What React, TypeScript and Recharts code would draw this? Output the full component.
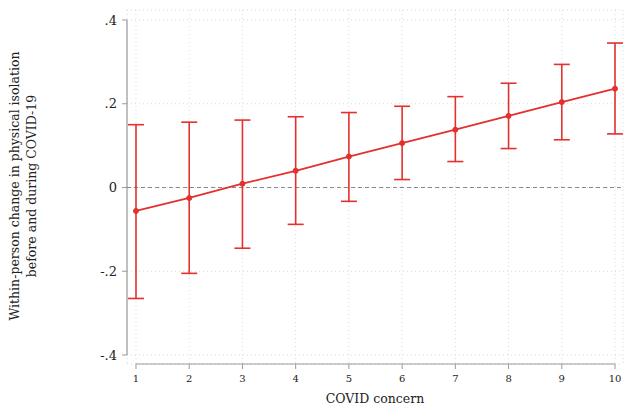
import { CartesianGrid, ComposedChart, ErrorBar, Label, Line, ReferenceLine,
         XAxis, YAxis } from "recharts";

const concern = [1, 2, 3, 4, 5, 6, 7, 8, 9, 10];
const effect = [-0.056, -0.025, 0.009, 0.040, 0.074, 0.106, 0.138, 0.171, 0.204, 0.236];
const lower = [-0.265, -0.205, -0.145, -0.088, -0.033, 0.019, 0.062, 0.093, 0.114, 0.128];
const upper = [0.150, 0.156, 0.161, 0.169, 0.179, 0.194, 0.217, 0.249, 0.294, 0.345];
const yTicks = [-0.4, -0.2, 0, 0.2, 0.4];

const X_DOMAIN = [0.831, 10.15];
const Y_DOMAIN = [-0.4215, 0.4239];
const RED = "#e2312f";
const AXIS = "#9a9a9a";
const FONT = '"DejaVu Serif", "Liberation Serif", serif';

const rows = concern.map((c, i) => ({
  concern: c,
  effect: effect[i],
  err: [effect[i] - lower[i], upper[i] - effect[i]],
}));

const fmtY = (v: number) => (v === 0 ? "0" : v.toFixed(1).replace("0.", "."));

function YTitle() {
  return (
    <text transform="translate(27,186) rotate(-90)" textAnchor="middle"
          fontFamily={FONT} fontSize={12.5} fill="#222">
      <tspan x={0} dy={-8}>Within-person change in physical isolation</tspan>
      <tspan x={0} dy={17}>before and during COVID-19</tspan>
    </text>
  );
}

export default function App() {
  return (
    <div style={{ position: "absolute", left: 0, top: 0, background: "#fff" }}>
      <ComposedChart width={624} height={407} data={rows}
                     margin={{ top: 10, right: 1, bottom: 0, left: 0 }}>
        <CartesianGrid stroke="#d8d8d8" strokeDasharray="1 3" />
        <XAxis type="number" dataKey="concern" domain={X_DOMAIN} allowDataOverflow
               ticks={concern} interval={0} height={43} axisLine={false}
               tickLine={{ stroke: AXIS }} tickSize={5} tickMargin={6}
               tick={{ fontFamily: FONT, fontSize: 10, fill: "#222" }}>
          <Label value="COVID concern" position="insideBottom" offset={4}
                 style={{ fontFamily: FONT, fontSize: 12.5, fill: "#222" }} />
        </XAxis>
        <YAxis type="number" domain={Y_DOMAIN} allowDataOverflow ticks={yTicks}
               interval={0} width={127} axisLine={false} tickFormatter={fmtY}
               tickLine={{ stroke: AXIS }} tickSize={5} tickMargin={5}
               tick={{ fontFamily: FONT, fontSize: 13, fill: "#222" }}
               label={<YTitle />} />
        <ReferenceLine segment={[{ x: X_DOMAIN[0], y: 0.4 }, { x: X_DOMAIN[0], y: -0.4 }]}
                       stroke={AXIS} strokeWidth={1.2} ifOverflow="visible" />
        <ReferenceLine segment={[{ x: 1, y: Y_DOMAIN[0] }, { x: 10, y: Y_DOMAIN[0] }]}
                       stroke={AXIS} strokeWidth={1.2} ifOverflow="visible" />
        <ReferenceLine y={0} stroke="#8a8a8a" strokeDasharray="4 3" strokeWidth={1.2} />
        <Line type="linear" dataKey="effect" stroke={RED} strokeWidth={1.8}
              dot={{ r: 2.5, fill: RED, stroke: RED, strokeWidth: 1 }}
              isAnimationActive={false}>
          <ErrorBar dataKey="err" direction="y" width={8} stroke={RED} strokeWidth={1.6}
                    isAnimationActive={false} />
        </Line>
      </ComposedChart>
    </div>
  );
}
